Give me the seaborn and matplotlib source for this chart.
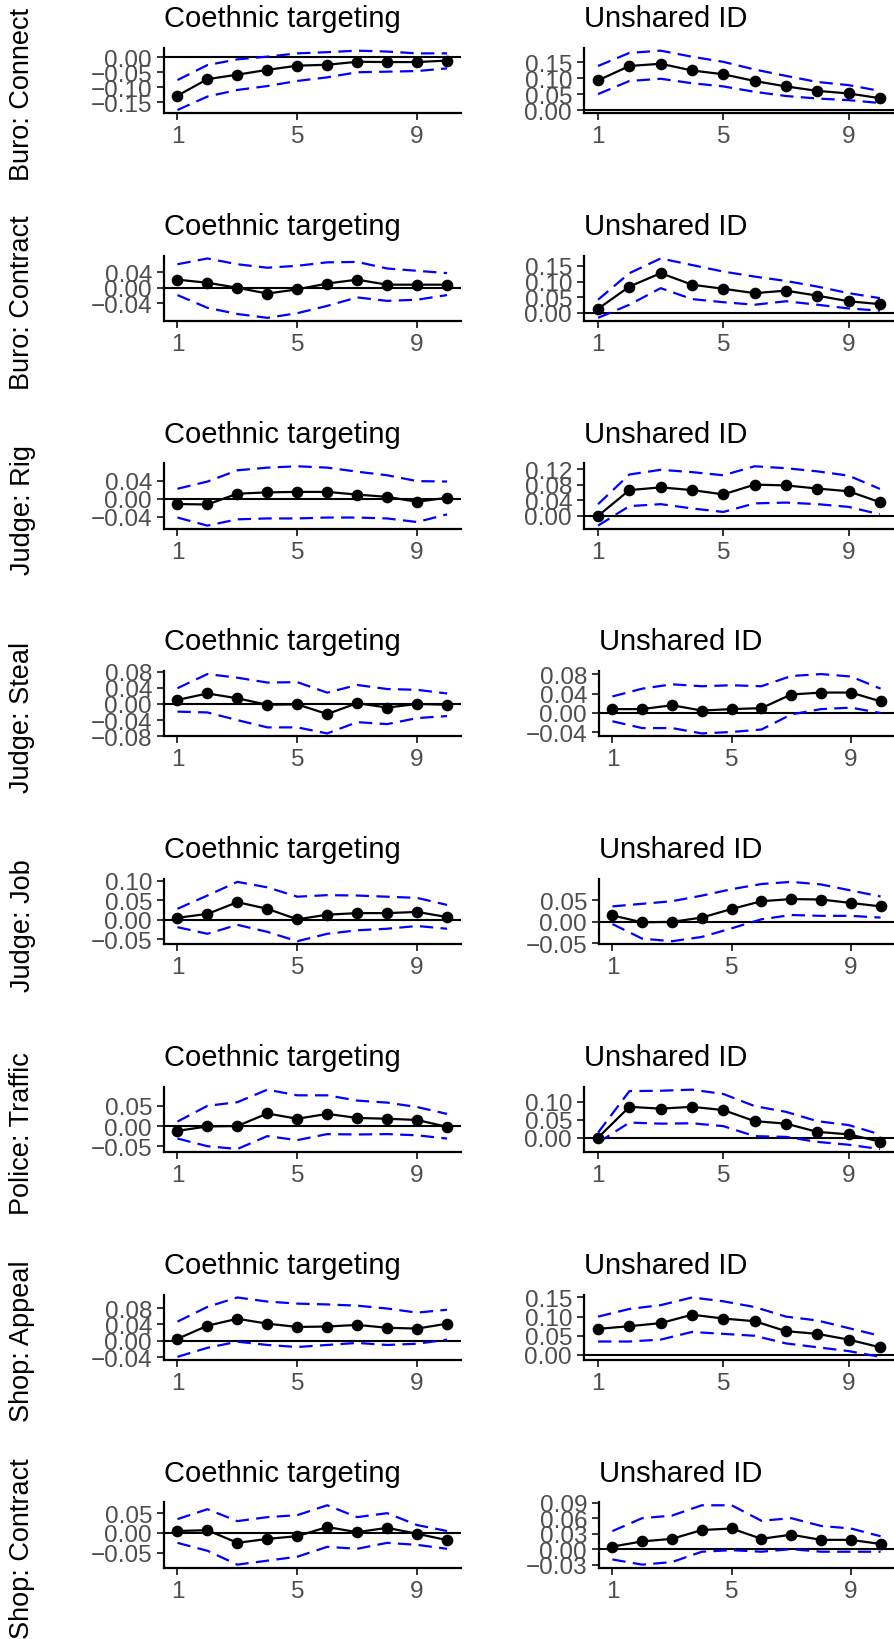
import matplotlib
matplotlib.use("Agg")
import matplotlib.pyplot as plt
import numpy as np
import pandas as pd
import seaborn as sns

periods = list(range(1, 11))
row_labels = ["Buro: Connect", "Buro: Contract", "Judge: Rig", "Judge: Steal",
              "Judge: Job", "Police: Traffic", "Shop: Appeal", "Shop: Contract"]
col_titles = ["Coethnic targeting", "Unshared ID"]

# ---- Buro: Connect
connect_co_est = [-0.128, -0.073, -0.058, -0.042, -0.028, -0.025, -0.015, -0.016, -0.016, -0.011]
connect_co_hi = [-0.076, -0.026, -0.007, 0.002, 0.013, 0.017, 0.022, 0.019, 0.013, 0.013]
connect_co_lo = [-0.176, -0.131, -0.109, -0.096, -0.079, -0.067, -0.050, -0.048, -0.046, -0.037]
connect_co_ticks = [-0.15, -0.10, -0.05, 0.00]
connect_un_est = [0.093, 0.138, 0.145, 0.124, 0.112, 0.091, 0.074, 0.060, 0.052, 0.037]
connect_un_hi = [0.138, 0.179, 0.186, 0.167, 0.151, 0.127, 0.107, 0.088, 0.078, 0.060]
connect_un_lo = [0.050, 0.091, 0.098, 0.084, 0.074, 0.057, 0.044, 0.036, 0.031, 0.022]
connect_un_ticks = [0.00, 0.05, 0.10, 0.15]

# ---- Buro: Contract
contract_co_est = [0.021, 0.013, 0.000, -0.015, -0.004, 0.011, 0.021, 0.008, 0.008, 0.008]
contract_co_hi = [0.061, 0.076, 0.061, 0.052, 0.057, 0.066, 0.067, 0.050, 0.044, 0.038]
contract_co_lo = [-0.019, -0.052, -0.068, -0.078, -0.066, -0.047, -0.025, -0.034, -0.031, -0.019]
contract_co_ticks = [-0.04, 0.00, 0.04]
contract_un_est = [0.013, 0.084, 0.127, 0.090, 0.077, 0.063, 0.071, 0.055, 0.037, 0.028]
contract_un_hi = [0.042, 0.127, 0.174, 0.153, 0.132, 0.116, 0.102, 0.084, 0.063, 0.047]
contract_un_lo = [-0.016, 0.026, 0.079, 0.044, 0.034, 0.026, 0.037, 0.026, 0.014, 0.007]
contract_un_ticks = [0.00, 0.05, 0.10, 0.15]

# ---- Judge: Rig
rig_co_est = [-0.012, -0.013, 0.011, 0.014, 0.015, 0.015, 0.009, 0.004, -0.007, 0.002]
rig_co_hi = [0.022, 0.038, 0.063, 0.069, 0.072, 0.069, 0.060, 0.052, 0.039, 0.038]
rig_co_lo = [-0.042, -0.060, -0.046, -0.044, -0.044, -0.042, -0.042, -0.044, -0.052, -0.035]
rig_co_ticks = [-0.04, 0.00, 0.04]
rig_un_est = [0.000, 0.066, 0.073, 0.066, 0.055, 0.080, 0.078, 0.070, 0.063, 0.035]
rig_un_hi = [0.030, 0.106, 0.118, 0.112, 0.104, 0.127, 0.122, 0.114, 0.103, 0.069]
rig_un_lo = [-0.025, 0.025, 0.030, 0.019, 0.010, 0.032, 0.034, 0.030, 0.023, 0.004]
rig_un_ticks = [0.00, 0.04, 0.08, 0.12]

# ---- Judge: Steal
steal_co_est = [0.010, 0.026, 0.014, -0.002, -0.001, -0.025, 0.002, -0.009, 0.000, -0.002]
steal_co_hi = [0.039, 0.074, 0.065, 0.053, 0.054, 0.028, 0.047, 0.037, 0.035, 0.026]
steal_co_lo = [-0.019, -0.021, -0.040, -0.058, -0.058, -0.073, -0.045, -0.050, -0.035, -0.030]
steal_co_ticks = [-0.08, -0.04, 0.00, 0.04, 0.08]
steal_un_est = [0.008, 0.008, 0.016, 0.005, 0.008, 0.010, 0.038, 0.042, 0.042, 0.024]
steal_un_hi = [0.034, 0.050, 0.059, 0.055, 0.057, 0.055, 0.076, 0.080, 0.075, 0.050]
steal_un_lo = [-0.017, -0.031, -0.031, -0.042, -0.039, -0.034, -0.003, 0.008, 0.011, 0.000]
steal_un_ticks = [-0.04, 0.00, 0.04, 0.08]

# ---- Judge: Job
job_co_est = [0.005, 0.015, 0.045, 0.028, 0.001, 0.013, 0.017, 0.017, 0.020, 0.007]
job_co_hi = [0.028, 0.062, 0.097, 0.083, 0.059, 0.063, 0.062, 0.059, 0.056, 0.038]
job_co_lo = [-0.019, -0.036, -0.013, -0.031, -0.055, -0.036, -0.027, -0.023, -0.016, -0.023]
job_co_ticks = [-0.05, 0.00, 0.05, 0.10]
job_un_est = [0.015, -0.001, 0.000, 0.010, 0.030, 0.048, 0.053, 0.052, 0.044, 0.036]
job_un_hi = [0.036, 0.042, 0.048, 0.061, 0.076, 0.088, 0.093, 0.087, 0.073, 0.059]
job_un_lo = [-0.005, -0.039, -0.045, -0.035, -0.015, 0.006, 0.016, 0.014, 0.014, 0.010]
job_un_ticks = [-0.05, 0.00, 0.05]

# ---- Police: Traffic
traffic_co_est = [-0.012, -0.001, 0.000, 0.031, 0.018, 0.030, 0.020, 0.018, 0.015, -0.002]
traffic_co_hi = [0.011, 0.050, 0.059, 0.090, 0.076, 0.076, 0.063, 0.058, 0.047, 0.030]
traffic_co_lo = [-0.031, -0.050, -0.057, -0.025, -0.035, -0.020, -0.021, -0.020, -0.023, -0.031]
traffic_co_ticks = [-0.05, 0.00, 0.05]
traffic_un_est = [0.000, 0.086, 0.081, 0.086, 0.077, 0.046, 0.039, 0.016, 0.009, -0.011]
traffic_un_hi = [0.014, 0.130, 0.131, 0.134, 0.122, 0.088, 0.072, 0.046, 0.035, 0.009]
traffic_un_lo = [-0.014, 0.042, 0.039, 0.040, 0.032, 0.004, 0.002, -0.012, -0.020, -0.032]
traffic_un_ticks = [0.00, 0.05, 0.10]

# ---- Shop: Appeal
appeal_co_est = [0.005, 0.037, 0.054, 0.042, 0.034, 0.035, 0.039, 0.032, 0.030, 0.042]
appeal_co_hi = [0.047, 0.083, 0.106, 0.096, 0.091, 0.089, 0.086, 0.079, 0.069, 0.076]
appeal_co_lo = [-0.039, -0.017, -0.002, -0.010, -0.015, -0.010, -0.005, -0.010, -0.007, 0.003]
appeal_co_ticks = [-0.04, 0.00, 0.04, 0.08]
appeal_un_est = [0.068, 0.075, 0.083, 0.105, 0.095, 0.088, 0.062, 0.055, 0.040, 0.020]
appeal_un_hi = [0.100, 0.120, 0.130, 0.150, 0.140, 0.125, 0.100, 0.090, 0.070, 0.050]
appeal_un_lo = [0.035, 0.035, 0.040, 0.060, 0.055, 0.050, 0.030, 0.020, 0.010, -0.005]
appeal_un_ticks = [0.00, 0.05, 0.10, 0.15]

# ---- Shop: Contract
shopc_co_est = [0.005, 0.007, -0.025, -0.015, -0.008, 0.015, 0.002, 0.013, -0.002, -0.018]
shopc_co_hi = [0.035, 0.060, 0.030, 0.040, 0.045, 0.070, 0.040, 0.050, 0.020, 0.005]
shopc_co_lo = [-0.025, -0.045, -0.080, -0.070, -0.060, -0.035, -0.040, -0.025, -0.030, -0.040]
shopc_co_ticks = [-0.05, 0.00, 0.05]
shopc_un_est = [0.005, 0.015, 0.020, 0.037, 0.040, 0.020, 0.028, 0.018, 0.018, 0.010]
shopc_un_hi = [0.035, 0.060, 0.065, 0.085, 0.085, 0.055, 0.060, 0.045, 0.040, 0.025]
shopc_un_lo = [-0.020, -0.030, -0.025, -0.005, -0.002, -0.005, 0.000, -0.005, -0.005, -0.005]
shopc_un_ticks = [-0.03, 0.00, 0.03, 0.06, 0.09]

panels = [
    [(connect_co_est, connect_co_lo, connect_co_hi, connect_co_ticks),
     (connect_un_est, connect_un_lo, connect_un_hi, connect_un_ticks)],
    [(contract_co_est, contract_co_lo, contract_co_hi, contract_co_ticks),
     (contract_un_est, contract_un_lo, contract_un_hi, contract_un_ticks)],
    [(rig_co_est, rig_co_lo, rig_co_hi, rig_co_ticks),
     (rig_un_est, rig_un_lo, rig_un_hi, rig_un_ticks)],
    [(steal_co_est, steal_co_lo, steal_co_hi, steal_co_ticks),
     (steal_un_est, steal_un_lo, steal_un_hi, steal_un_ticks)],
    [(job_co_est, job_co_lo, job_co_hi, job_co_ticks),
     (job_un_est, job_un_lo, job_un_hi, job_un_ticks)],
    [(traffic_co_est, traffic_co_lo, traffic_co_hi, traffic_co_ticks),
     (traffic_un_est, traffic_un_lo, traffic_un_hi, traffic_un_ticks)],
    [(appeal_co_est, appeal_co_lo, appeal_co_hi, appeal_co_ticks),
     (appeal_un_est, appeal_un_lo, appeal_un_hi, appeal_un_ticks)],
    [(shopc_co_est, shopc_co_lo, shopc_co_hi, shopc_co_ticks),
     (shopc_un_est, shopc_un_lo, shopc_un_hi, shopc_un_ticks)],
]

sns.set_theme(style="white")
plt.rcParams["font.family"] = ["Liberation Sans", "DejaVu Sans"]
plt.rcParams["axes.unicode_minus"] = True

W, H = 894, 1640
fig = plt.figure(figsize=(W / 100, H / 100), dpi=100)
fig.patch.set_facecolor("white")

PITCH = 207.8
P_TOP, P_BOT = 48.7, 114.0
LW = 1.6
TICK_COLOR = "#4D4D4D"


def fmt(v):
    s = f"{abs(v):.2f}"
    return ("\u2212" + s) if v < -1e-12 else s


for r, label in enumerate(row_labels):
    off = r * PITCH
    fig.text(22.5 / W, 1 - (off + 94.5) / H, label, rotation=90,
             ha="center", va="center", fontsize=19.5, color="black")
    for c in range(2):
        est, lo, hi, ticks = panels[r][c]
        if c == 0:
            x0, x1 = 164.0, 460.5
        else:
            x0 = 599.0 if min(ticks) < 0 else 584.0
            x1 = 894.0
        ax = fig.add_axes([x0 / W, 1 - (off + P_BOT) / H,
                           (x1 - x0) / W, (P_BOT - P_TOP) / H])
        df = pd.DataFrame({"period": periods, "est": est, "lo": lo, "hi": hi})
        ax.axhline(0, color="black", lw=1.5, zorder=1)
        for col in ("hi", "lo"):
            sns.lineplot(data=df, x="period", y=col, ax=ax, color="#0000FF",
                         lw=LW, linestyle=(0, (6.0, 3.3)), zorder=2)
        sns.lineplot(data=df, x="period", y="est", ax=ax, color="black",
                     lw=LW, marker="o", markersize=8.4, markeredgewidth=0,
                     zorder=3)
        ymin = min(min(lo), min(est), 0.0)
        ymax = max(max(hi), max(est), 0.0)
        pad = 0.05 * (ymax - ymin)
        ax.set_ylim(ymin - pad, ymax + pad)
        ax.set_xlim(0.55, 10.45)
        ax.set_xticks([1, 5, 9])
        ax.set_xticklabels(["1", "5", "9"])
        ax.set_yticks(ticks)
        ax.set_yticklabels([fmt(t) for t in ticks])
        ax.set_xlabel("")
        ax.set_ylabel("")
        for side in ("top", "right"):
            ax.spines[side].set_visible(False)
        for side in ("left", "bottom"):
            ax.spines[side].set_color("black")
            ax.spines[side].set_linewidth(1.6)
        ax.tick_params(axis="both", which="both", length=5, width=1.4,
                       color="#333333", labelcolor=TICK_COLOR, labelsize=17.5,
                       pad=3.6, left=True, bottom=True)
        ax.set_facecolor("white")
        ax.grid(False)
        fig.text(x0 / W, 1 - (off + 27.0) / H, col_titles[c],
                 ha="left", va="baseline", fontsize=21, color="black")

fig.savefig("out.png", dpi=100, facecolor="white")
